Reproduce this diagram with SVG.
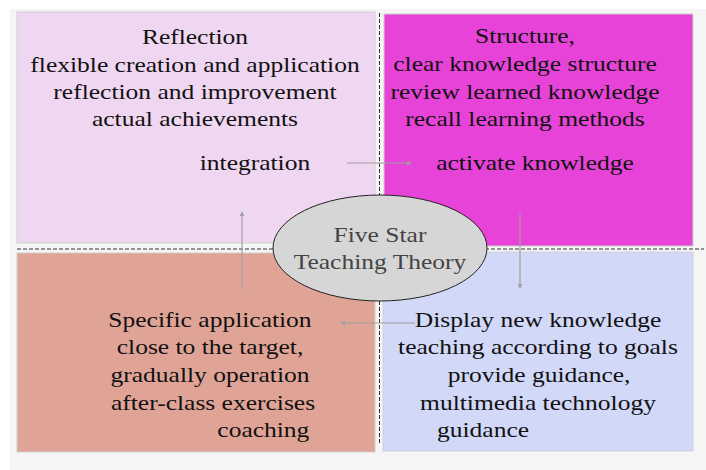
<svg xmlns="http://www.w3.org/2000/svg" width="706" height="470" viewBox="0 0 706 470">
<defs>
<style>
.t{font-family:"Liberation Serif","Times New Roman",serif;font-size:22px;fill:#111;text-anchor:middle}
.c{font-family:"Liberation Serif","Times New Roman",serif;font-size:22px;fill:#444;text-anchor:middle}
.box{stroke:#d0d0d0;stroke-width:1}
.dash{stroke:#333;stroke-width:1;stroke-dasharray:4,2;fill:none}
.conn{stroke:#a0a0a0;stroke-width:1.2;fill:none}
</style>
<marker id="ah" viewBox="0 0 6 6" refX="5" refY="3" markerWidth="5" markerHeight="5" orient="auto" markerUnits="userSpaceOnUse">
<path d="M0,0 L6,3 L0,6 z" fill="#a0a0a0"/>
</marker>
</defs>
<rect x="0" y="0" width="706" height="470" fill="#ffffff"/>
<rect x="10" y="9" width="696" height="461" fill="#f5f5f5"/>
<g id="dividers">
<line class="dash" x1="17" y1="249" x2="704" y2="249"/>
<line class="dash" x1="379.5" y1="13" x2="379.5" y2="443"/>
</g>
<g id="reflection">
<rect class="box" x="17" y="12" width="358" height="231" fill="#f0d7f1"/>
<g transform="translate(195,0) scale(1.16,1)">
<text class="t" x="0" y="44">Reflection</text>
<text class="t" x="0" y="72">flexible creation and application</text>
<text class="t" x="0" y="99">reflection and improvement</text>
<text class="t" x="0" y="126">actual achievements</text>
<text class="t" x="51.7" y="170">integration</text>
</g>
</g>
<g id="structure">
<rect class="box" x="384" y="14" width="309" height="232" fill="#e843d8"/>
<g transform="translate(525,0) scale(1.16,1)">
<text class="t" x="0" y="43">Structure,</text>
<text class="t" x="0" y="71">clear knowledge structure</text>
<text class="t" x="0" y="99">review learned knowledge</text>
<text class="t" x="0" y="126">recall learning methods</text>
<text class="t" x="8.6" y="170">activate knowledge</text>
</g>
</g>
<g id="application">
<rect class="box" x="17" y="253" width="358" height="199" fill="#e0a497"/>
<g transform="translate(210,0) scale(1.16,1)">
<text class="t" x="0" y="327">Specific application</text>
<text class="t" x="0" y="354">close to the target,</text>
<text class="t" x="0" y="382">gradually operation</text>
<text class="t" x="2.6" y="410">after-class exercises</text>
<text class="t" x="46" y="437">coaching</text>
</g>
</g>
<g id="display">
<rect class="box" x="383" y="252" width="310" height="199" fill="#d2d8f8"/>
<g transform="translate(538,0) scale(1.16,1)">
<text class="t" x="0" y="327">Display new knowledge</text>
<text class="t" x="0" y="354">teaching according to goals</text>
<text class="t" x="0.9" y="382">provide guidance,</text>
<text class="t" x="0" y="410">multimedia technology</text>
<text class="t" x="-47.4" y="437">guidance</text>
</g>
</g>
<g id="connectors">
<line class="conn" x1="347" y1="163" x2="411" y2="163" marker-end="url(#ah)"/>
<line class="conn" x1="520" y1="214" x2="520" y2="288" marker-end="url(#ah)"/>
<line class="conn" x1="415" y1="323" x2="341" y2="323" marker-end="url(#ah)"/>
<line class="conn" x1="242" y1="289" x2="242" y2="212" marker-end="url(#ah)"/>
</g>
<g id="center">
<ellipse cx="380" cy="248" rx="107" ry="53" fill="#d6d6d6" stroke="#222" stroke-width="1"/>
<g transform="translate(380,0) scale(1.16,1)">
<text class="c" x="0" y="242">Five Star</text>
<text class="c" x="0" y="269">Teaching Theory</text>
</g>
</g>
</svg>
